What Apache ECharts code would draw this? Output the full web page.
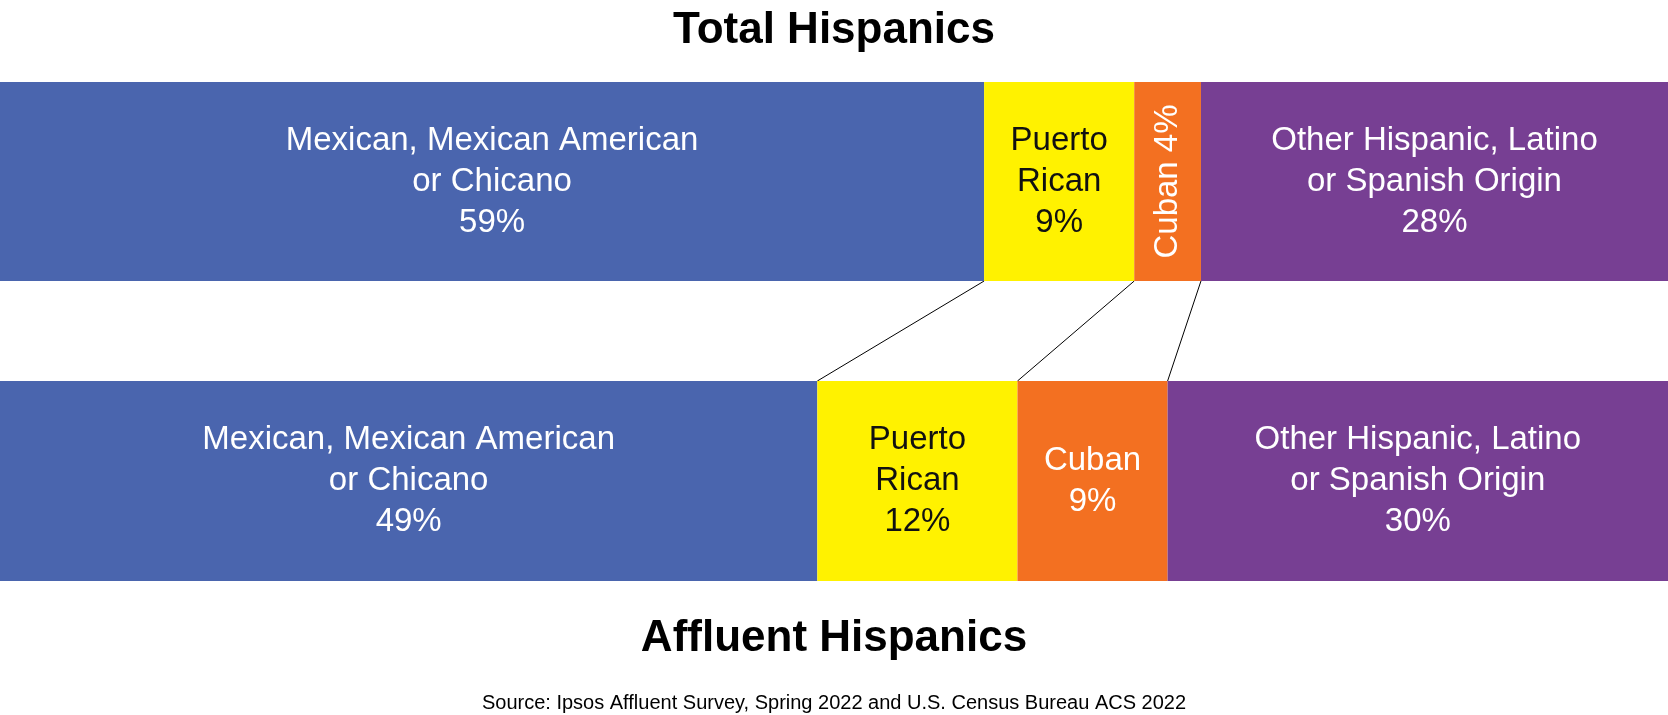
<!DOCTYPE html>
<html><head><meta charset="utf-8">
<script src="https://cdn.jsdelivr.net/npm/echarts@6/dist/echarts.min.js"></script>
<style>html,body{margin:0;padding:0;background:#fff}#c{width:1668px;height:715px}</style>
</head><body><div id="c"></div>
<script>
// segment names, colours and shares
var segNames = ['Mexican, Mexican American\nor Chicano', 'Puerto\nRican', 'Cuban', 'Other Hispanic, Latino\nor Spanish Origin'];
var segColors = ['#4a65ae', '#fff200', '#f37021', '#773f93'];
var totalShare = [59, 9, 4, 28];
var affluentShare = [49, 12, 9, 30];
var font = 'Liberation Sans, Arial, sans-serif';

var chart = echarts.init(document.getElementById('c'));

var series = [];
function addRow(vals, gi) {
    vals.forEach(function (v, i) {
        var rotate = (gi === 0 && i === 2);
        series.push({
            type: 'bar', stack: 's' + gi, xAxisIndex: gi, yAxisIndex: gi,
            barWidth: '100%', data: [v],
            itemStyle: {color: segColors[i]},
            label: {
                show: true, position: 'inside', color: i === 1 ? '#111' : '#fff',
                fontFamily: font, fontSize: 33, lineHeight: 41,
                rotate: rotate ? 90 : 0,
                formatter: rotate ? segNames[i] + ' ' + v + '%' : segNames[i] + '\n' + v + '%'
            }
        });
    });
}
addRow(totalShare, 0);
addRow(affluentShare, 1);

var option = {
    animation: false,
    grid: [
        {left: 0, right: 0, top: 82, height: 199},
        {left: 0, right: 0, top: 381, height: 200}
    ],
    xAxis: [0, 1].map(function (g) {
        return {type: 'value', gridIndex: g, min: 0, max: 100, show: false};
    }),
    yAxis: [0, 1].map(function (g) {
        return {type: 'category', gridIndex: g, data: [''], show: false};
    }),
    title: [
        {text: 'Total Hispanics', left: 'center', top: 4, textStyle: {fontFamily: font, fontSize: 44, fontWeight: 'bold', color: '#000'}},
        {text: 'Affluent Hispanics', left: 'center', top: 612, textStyle: {fontFamily: font, fontSize: 44, fontWeight: 'bold', color: '#000'}},
        {text: 'Source: Ipsos Affluent Survey, Spring 2022 and U.S. Census Bureau ACS 2022', left: 'center', top: 688, textStyle: {fontFamily: font, fontSize: 20, fontWeight: 'normal', color: '#000'}}
    ],
    series: series
};
chart.setOption(option);

// connector lines between matching boundaries
var lines = [];
var topSum = 0, botSum = 0;
for (var i = 0; i < 3; i++) {
    topSum += totalShare[i];
    botSum += affluentShare[i];
    var x1 = chart.convertToPixel({xAxisIndex: 0}, topSum);
    var x2 = chart.convertToPixel({xAxisIndex: 1}, botSum);
    lines.push({type: 'line', shape: {x1: x1, y1: 281, x2: x2, y2: 381}, style: {stroke: '#000', lineWidth: 1}});
}
chart.setOption({graphic: lines});
</script>
</body></html>
